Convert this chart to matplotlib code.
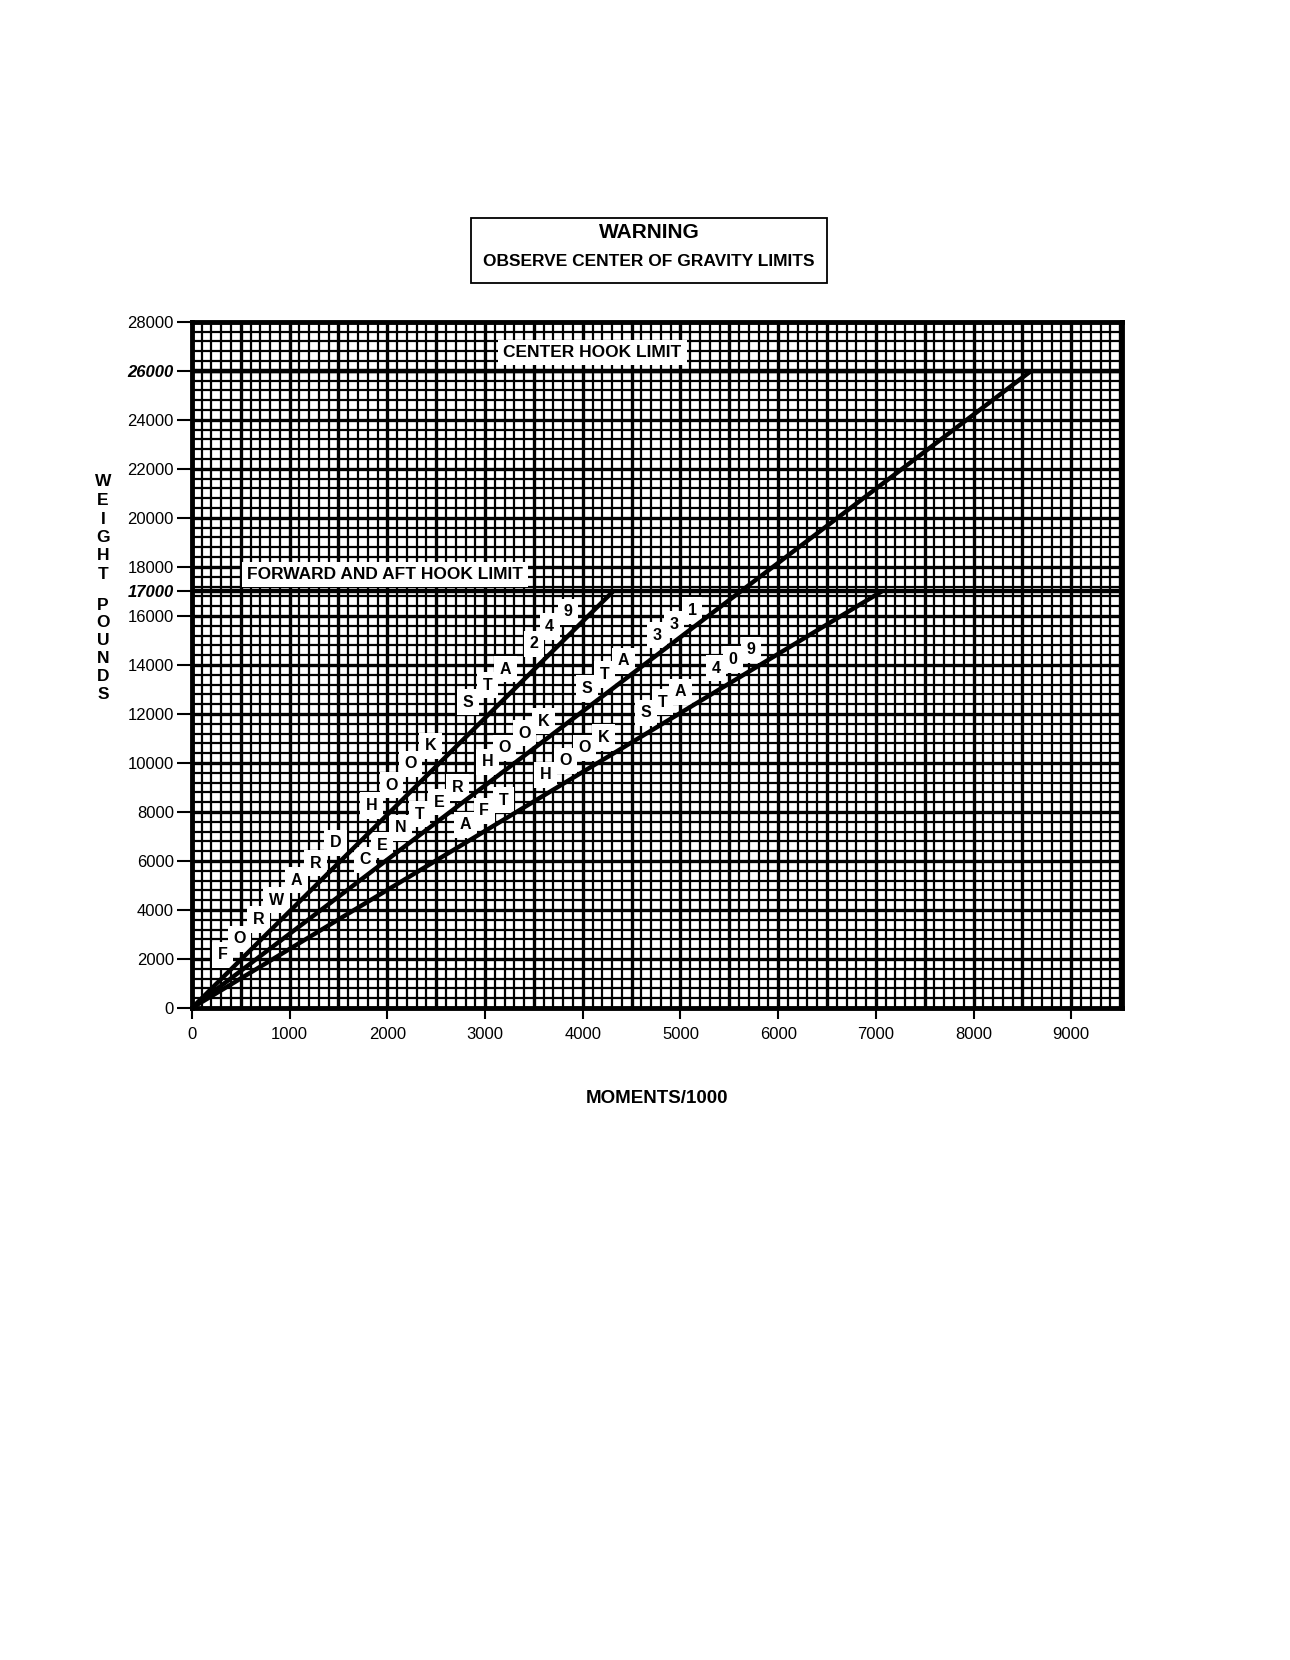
import numpy as np
from matplotlib import pyplot as plt

plt.rcParams['font.family'] = ['Liberation Sans', 'DejaVu Sans']

# limit lines (weight, pounds)
center_limit = 26000
fwd_aft_limit = 17000

# station lines: end points (moment/1000, weight)
line_names = ["FORWARD HOOK STA 249", "CENTER HOOK STA 331", "AFT HOOK STA 409"]
line_end_x = [4310, 8590, 7060]
line_end_y = [17000, 26000, 17000]

# letters along each line
fwd_letters = list("FORWARDHOOKSTA249")
fwd_x = [313, 486, 680, 864, 1069, 1263, 1469, 1836, 2041, 2235, 2441, 2829, 3024, 3207, 3499, 3661, 3845]
fwd_y = [2170, 2830, 3610, 4390, 5220, 5910, 6740, 8260, 9090, 9960, 10700, 12480, 13170, 13830, 14870, 15570, 16170]

ctr_letters = list("CENTERHOOKSTA331")
ctr_x = [1771, 1944, 2138, 2333, 2527, 2721, 3024, 3197, 3402, 3596, 4039, 4222, 4417, 4762, 4935, 5119]
ctr_y = [6040, 6650, 7350, 7910, 8390, 9000, 10040, 10610, 11220, 11700, 13040, 13610, 14170, 15220, 15650, 16220]

aft_letters = list("AFTHOOKSTA409")
aft_x = [2797, 2991, 3186, 3618, 3823, 4017, 4212, 4644, 4816, 5000, 5367, 5540, 5724]
aft_y = [7480, 8040, 8480, 9520, 10090, 10610, 11040, 12040, 12480, 12910, 13870, 14220, 14610]

x_ticks = [0, 1000, 2000, 3000, 4000, 5000, 6000, 7000, 8000, 9000]
y_ticks = [0, 2000, 4000, 6000, 8000, 10000, 12000, 14000, 16000, 17000, 18000,
           20000, 22000, 24000, 26000, 28000]

fig = plt.figure(figsize=(12.9, 16.6), dpi=100)
ax = fig.add_axes([0.1488, 0.3928, 0.721, 0.4133])
ax.set_xlim(0, 9520)
ax.set_ylim(0, 28000)

# graph paper grid
for x in np.arange(100, 9520, 100):
    lw = 2.4 if x % 500 == 0 else 1.6
    ax.axvline(x, color='black', lw=lw, zorder=1)
for y in np.arange(400, 28000, 400):
    lw = 2.4 if y % 2000 == 0 else 1.6
    ax.axhline(y, color='black', lw=lw, zorder=1)

ax.axhline(center_limit, color='black', lw=3.2, zorder=2)
ax.axhline(fwd_aft_limit, color='black', lw=3.2, zorder=2)

for ex, ey in zip(line_end_x, line_end_y):
    ax.plot([0, ex], [0, ey], color='black', lw=3.2, zorder=4, solid_capstyle='butt')

box = dict(facecolor='white', edgecolor='none', boxstyle='square,pad=0.35')
for letters, xs, ys in [(fwd_letters, fwd_x, fwd_y), (ctr_letters, ctr_x, ctr_y),
                        (aft_letters, aft_x, aft_y)]:
    for ch, lx, ly in zip(letters, xs, ys):
        ax.text(lx, ly, ch, ha='center', va='center', fontsize=11.5,
                fontweight='bold', bbox=box, zorder=3)

lbl_box = dict(facecolor='white', edgecolor='none', boxstyle='square,pad=0.3')
ax.text(4100, 26750, "CENTER HOOK LIMIT", ha='center', va='center', fontsize=12.5,
        fontweight='bold', bbox=lbl_box, zorder=3)
ax.text(1975, 17700, "FORWARD AND AFT HOOK LIMIT", ha='center', va='center', fontsize=12.5,
        fontweight='bold', bbox=lbl_box, zorder=3)

for s in ax.spines.values():
    s.set_linewidth(3.5)
    s.set_zorder(5)

ax.set_xticks(x_ticks)
ax.set_yticks(y_ticks)
ax.set_xticklabels([str(v) for v in x_ticks], fontsize=12)
ax.set_yticklabels([str(v) for v in y_ticks], fontsize=12)
for lab, v in zip(ax.get_yticklabels(), y_ticks):
    if v in (center_limit, fwd_aft_limit):
        lab.set_fontweight('bold')
        lab.set_fontstyle('italic')
ax.tick_params(axis='y', length=11, width=1.5, pad=2)
ax.tick_params(axis='x', length=8, width=1.5, pad=6)

ax.set_xlabel("MOMENTS/1000", fontsize=13.5, fontweight='bold', labelpad=34)

# vertical stacked y label
for i, ch in enumerate("WEIGHT"):
    fig.text(103 / 1290, 1 - (482 + i * 18.5) / 1660, ch, ha='center', va='center',
             fontsize=12.5, fontweight='bold')
for i, ch in enumerate("POUNDS"):
    fig.text(103 / 1290, 1 - (605 + i * 17.8) / 1660, ch, ha='center', va='center',
             fontsize=12.5, fontweight='bold')

# warning box
fig.patches.append(plt.Rectangle((471 / 1290, 1 - 283 / 1660), 356 / 1290, 65 / 1660,
                                 transform=fig.transFigure, fill=False, lw=1.3,
                                 edgecolor='black'))
fig.text(649 / 1290, 1 - 232 / 1660, "WARNING", ha='center', va='center',
         fontsize=15, fontweight='bold')
fig.text(649 / 1290, 1 - 262 / 1660, "OBSERVE CENTER OF GRAVITY LIMITS", ha='center',
         va='center', fontsize=12.5, fontweight='bold')

fig.savefig('out.png', dpi=100, facecolor='white')
